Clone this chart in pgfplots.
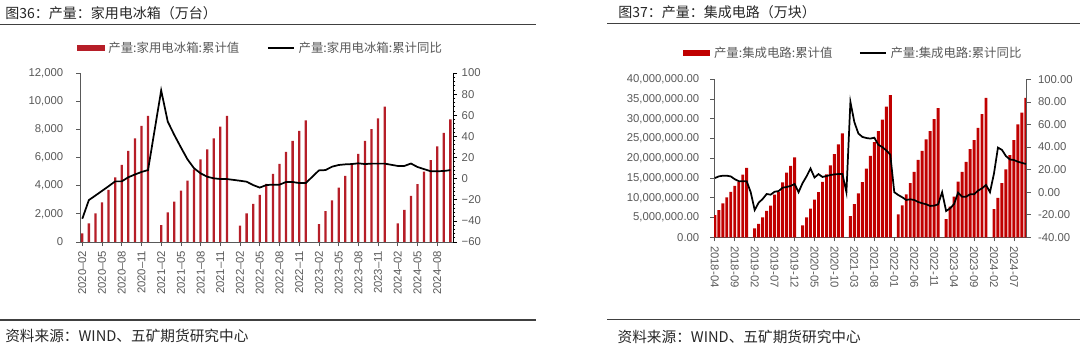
\documentclass[border=0pt]{standalone}
\usepackage{fontspec}
\setmainfont{Liberation Sans}
\newfontfamily\cjk{Noto Sans CJK SC}
\usepackage{pgfplots}
\pgfplotsset{compat=1.18}
\definecolor{barL}{RGB}{182,30,40}
\definecolor{barR}{RGB}{192,0,0}
\definecolor{tickgray}{RGB}{89,89,89}
\definecolor{rulegray}{RGB}{64,64,64}
\pgfplotsset{
  base/.style={
    scale only axis,
    scaled y ticks=false,
    tick label style={font=\fontsize{8.5}{10}\selectfont, text=tickgray},
    tick align=outside,
    major tick length=3pt,
    minor tick length=1.8pt,
    every tick/.style={tickgray, line width=0.5pt},
    axis line style={tickgray, line width=0.6pt},
    /pgf/number format/assume math mode=true,
  },
  barleg/.style={legend image code/.code={\fill[#1] (0pt,-1.9pt) rectangle (20pt,1.9pt);}},
  lineleg/.style={legend image code/.code={\draw[black, line width=1pt] (0pt,0pt) -- (19.5pt,0pt);}},
}
\begin{document}
\begin{tikzpicture}
\path[use as bounding box] (0,0) rectangle (810pt,-264pt);
% ---------- titles, rules, sources ----------
\node[anchor=west, inner sep=0pt, font=\cjk\fontsize{10.5}{12}\selectfont, text=black!85] at (3.75pt,-9.75pt) {图36：产量：家用电冰箱（万台）};
\draw[rulegray, line width=1.1pt] (0pt,-18.2pt) -- (402pt,-18.2pt);
\node[anchor=west, inner sep=0pt, font=\cjk\fontsize{10.5}{12}\selectfont, text=black!85] at (463.5pt,-8.9pt) {图37：产量：集成电路（万块）};
\draw[rulegray, line width=1.1pt] (455.25pt,-17.6pt) -- (810pt,-17.6pt);
\draw[rulegray, line width=1.1pt] (0pt,-240pt) -- (402pt,-240pt);
\draw[rulegray, line width=1.1pt] (455.25pt,-239.5pt) -- (810pt,-239.5pt);
\node[anchor=west, inner sep=0pt, font=\cjk\fontsize{11}{12}\selectfont, text=black!85] at (3.75pt,-252pt) {资料来源：WIND、五矿期货研究中心};
\node[anchor=west, inner sep=0pt, font=\cjk\fontsize{11}{12}\selectfont, text=black!85] at (463pt,-252.5pt) {资料来源：WIND、五矿期货研究中心};

% ---------- left chart: bars ----------
\begin{axis}[base, at={(60pt,-181.5pt)}, anchor=south west, width=279.75pt, height=126.75pt,
  xmin=-0.35, xmax=56.4, ymin=0, ymax=12000,
  axis x line*=bottom, axis y line*=left,
  xtick={0,3,...,54},
  xticklabels={2020–02,2020–05,2020–08,2020–11,2021–02,2021–05,2021–08,2021–11,2022–02,2022–05,2022–08,2022–11,2023–02,2023–05,2023–08,2023–11,2024–02,2024–05,2024–08},
  xticklabel style={rotate=90, anchor=east},
  ytick={0,2000,...,12000},
  yticklabels={0,{2,000},{4,000},{6,000},{8,000},{10,000},{12,000}},
  yticklabel style={xshift=-6pt},
  ybar, bar width=1.7pt,
]
\addplot[fill=barL, draw=none] coordinates {
(0,618)(1,1328)(2,2038)(3,2820)(4,3693)(5,4595)(6,5469)(7,6463)(8,7365)(9,8239)(10,8949)
(12,1207)(13,2109)(14,2862)(15,3643)(16,4354)(17,5163)(18,5873)(19,6584)(20,7365)(21,8189)(22,8949)
(24,1158)(25,2038)(26,2699)(27,3338)(28,4119)(29,4830)(30,5540)(31,6392)(32,7173)(33,7884)(34,8643)
(36,1268)(37,2190)(38,2950)(39,3857)(40,4700)(41,5469)(42,6250)(43,7173)(44,8015)(45,8785)(46,9609)
(48,1315)(49,2283)(50,3267)(51,4108)(52,4993)(53,5812)(54,6790)(55,7752)(56,8714)
};
\end{axis}
% ---------- left chart: line ----------
\begin{axis}[base, at={(60pt,-181.5pt)}, anchor=south west, width=279.75pt, height=126.75pt,
  xmin=-0.35, xmax=56.4, ymin=-60, ymax=100,
  axis x line=none, axis y line*=right,
  axis line style={black, line width=0.6pt},
  every tick/.style={black, line width=0.5pt},
  ytick={-60,-40,...,100},
  yticklabels={−60,−40,−20,0,20,40,60,80,100},
  minor y tick num=4,
  legend style={at={(0.485,1.148)}, anchor=center, draw=none, fill=none,
    legend columns=2, font=\cjk\fontsize{9.3}{11}\selectfont, text=tickgray,
    /tikz/every even column/.append style={column sep=19pt},
    /tikz/every odd column/.append style={column sep=1pt}},
]
\addlegendimage{barleg=barL}
\addlegendentry{产量:家用电冰箱:累计值}
\addplot[black, line width=1.3pt, lineleg] coordinates {
(0,-38)(1,-20.3)(2,-16)(3,-11.6)(4,-7.2)(5,-2.6)(6,-2.6)(7,1.3)(8,3.9)(9,6.3)(10,8.1)
(12,83.5)(13,54)(14,41.3)(15,29.6)(16,18.3)(17,9.8)(18,5.0)(19,1.8)(20,0.3)(21,-0.4)(22,-0.4)
(24,-2.0)(25,-2.9)(26,-6.1)(27,-8.5)(28,-6.1)(29,-5.7)(30,-5.7)(31,-3.2)(32,-3.2)(33,-4.2)(34,-4.2)
(36,7.8)(37,8.1)(38,11.3)(39,12.9)(40,13.5)(41,13.8)(42,14.5)(43,13.8)(44,14.2)(45,14.2)(46,14.2)
(48,12)(49,12)(50,14.3)(51,11)(52,9)(53,7)(54,7)(55,7.2)(56,8.1)
};
\addlegendentry{产量:家用电冰箱:累计同比}
\end{axis}

% ---------- right chart: bars ----------
\begin{axis}[base, at={(535.5pt,-178pt)}, anchor=south west, width=234.5pt, height=118.5pt,
  xmin=-0.2, xmax=78.2, ymin=0, ymax=40000000,
  axis x line*=bottom, axis y line*=left,
  xtick={0,5,...,75},
  xticklabels={2018-04,2018-09,2019-02,2019-07,2019-12,2020-05,2020-10,2021-03,2021-08,2022-01,2022-06,2022-11,2023-04,2023-09,2024-02,2024-07},
  xticklabel style={rotate=-90, anchor=west},
  ytick={0,5000000,...,40000000},
  yticklabels={0.00,{5,000,000.00},{10,000,000.00},{15,000,000.00},{20,000,000.00},{25,000,000.00},{30,000,000.00},{35,000,000.00},{40,000,000.00}},
  yticklabel style={xshift=-4.5pt},
  ybar, bar width=2.2pt,
]
\addplot[fill=barR, draw=none] coordinates {
(0,5650000)(1,6910000)(2,8580000)(3,10100000)(4,11500000)(5,13000000)(6,14100000)(7,15900000)(8,17600000)
(10,2280000)(11,3400000)(12,5060000)(13,6700000)(14,8000000)(15,10800000)(16,11500000)(17,13900000)(18,16400000)(19,18100000)(20,20250000)
(22,3000000)(23,5060000)(24,7290000)(25,9530000)(26,11450000)(27,14050000)(28,15950000)(29,18200000)(30,21050000)(31,23550000)(32,26300000)
(34,5390000)(35,8430000)(36,11100000)(37,14000000)(38,17400000)(39,20600000)(40,24100000)(41,26900000)(42,29800000)(43,33100000)(44,36000000)
(46,5820000)(47,8100000)(48,10900000)(49,13700000)(50,16600000)(51,19600000)(52,21900000)(53,24800000)(54,26900000)(55,29900000)(56,32700000)
(58,4630000)(59,7750000)(60,10300000)(61,14100000)(62,16600000)(63,19100000)(64,22300000)(65,24600000)(66,27700000)(67,31200000)(68,35300000)
(70,7160000)(71,10000000)(72,13700000)(73,17200000)(74,20800000)(75,24600000)(76,28600000)(77,31600000)(78,35300000)
};
\end{axis}
% ---------- right chart: line ----------
\begin{axis}[base, at={(535.5pt,-178pt)}, anchor=south west, width=234.5pt, height=118.5pt,
  xmin=-0.2, xmax=78.2, ymin=-40, ymax=100,
  axis x line=none, axis y line*=right,
  ytick={-40,-20,...,100},
  yticklabels={-40.00,-20.00,0.00,20.00,40.00,60.00,80.00,100.00},
  yticklabel style={xshift=2pt},
  legend style={at={(0.446,1.166)}, anchor=center, draw=none, fill=none,
    legend columns=2, font=\cjk\fontsize{9.3}{11}\selectfont, text=tickgray,
    /tikz/every even column/.append style={column sep=18pt},
    /tikz/every odd column/.append style={column sep=1pt}},
]
\addlegendimage{barleg=barR}
\addlegendentry{产量:集成电路:累计值}
\addplot[black, line width=1.3pt, lineleg] coordinates {
(0,12.5)(1,14.0)(2,14.6)(3,14.6)(4,14.0)(5,11.5)(6,9.8)(7,9.6)(8,9.6)
(9,0)
(10,-15.8)(11,-9.3)(12,-6.0)(13,-1.6)(14,-2.2)(15,0.4)(16,1.0)(17,4.0)(18,4.6)(19,5.5)(20,7.3)
(21,0)
(22,8)(23,14)(24,21)(25,13)(26,16)(27,13.5)(28,14.3)(29,15.2)(30,15.8)(31,16.1)(32,16.1)
(33,0)
(34,80)(35,62)(36,52)(37,49)(38,48)(39,47.5)(40,48.3)(41,42)(42,40)(43,37)(44,33.3)
(45,0)
(46,-2.5)(47,-4.5)(48,-6.9)(49,-6.3)(50,-6.9)(51,-8.7)(52,-9.8)(53,-10.7)(54,-12.2)(55,-11.9)(56,-10.8)
(57,0)
(58,-16.7)(59,-14.3)(60,-10.5)(61,-0.4)(62,-4.0)(63,-4.0)(64,-1.9)(65,-1.9)(66,1.4)(67,3.4)(68,6.4)
(69,0)
(70,16.5)(71,39.5)(72,37.5)(73,32)(74,29)(75,28.5)(76,27)(77,26)(78,25)
};
\addlegendentry{产量:集成电路:累计同比}
\end{axis}
\end{tikzpicture}
\end{document}
